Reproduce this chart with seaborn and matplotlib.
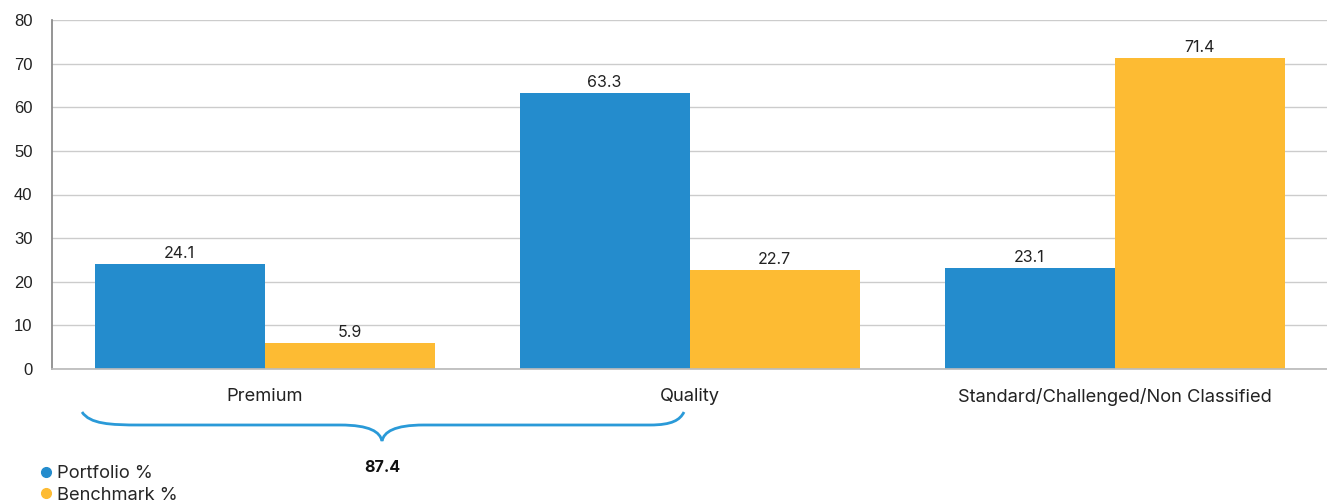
import matplotlib
matplotlib.use("Agg")
import matplotlib.pyplot as plt
from matplotlib.path import Path
from matplotlib.patches import PathPatch
from matplotlib.lines import Line2D
import seaborn as sns
import pandas as pd

# data
categories = ["Premium", "Quality", "Standard/Challenged/Non Classified"]
portfolio = [24.1, 63.3, 23.1]
benchmark = [5.9, 22.7, 71.4]
series_names = ["Portfolio %", "Benchmark %"]
brace_total = "87.4"

BLUE = "#248ccd"
YELLOW = "#fdbb33"

df = pd.DataFrame({
    "Category": categories * 2,
    "Value": portfolio + benchmark,
    "Series": [series_names[0]] * 3 + [series_names[1]] * 3,
})

sns.set_theme(style="white")
plt.rcParams["font.family"] = ["Inter", "DejaVu Sans"]

W, H = 1327, 504
fig = plt.figure(figsize=(W / 100, H / 100), dpi=100)
ax = fig.add_axes([52 / W, 1 - 369 / H, 1 - 52 / W, (369 - 20) / H])

sns.barplot(data=df, x="Category", y="Value", hue="Series",
            palette=[BLUE, YELLOW], width=0.8, saturation=1,
            linewidth=0, legend=False, ax=ax)

for cont in ax.containers:
    ax.bar_label(cont, fmt="%.1f", padding=2, fontsize=11.5, color="#222222")

ax.set_xlim(-0.5, 2.5)
ax.set_ylim(0, 80)
ax.set_yticks(range(0, 81, 10))
ax.yaxis.grid(True, color="#cccccc", linewidth=1)
ax.set_axisbelow(True)
ax.set_xlabel("")
ax.set_ylabel("")
for s in ["top", "right"]:
    ax.spines[s].set_visible(False)
ax.spines["left"].set_color("#888888")
ax.spines["bottom"].set_color("#bbbbbb")
ax.tick_params(axis="y", labelsize=12, pad=14, length=0, colors="#222222")
ax.tick_params(axis="x", labelsize=13.2, pad=14, length=0, colors="#222222")
for lbl in ax.get_yticklabels():
    lbl.set_family(["Liberation Sans", "DejaVu Sans"])

# brace under Premium + Quality (pixel coords -> figure fraction)
def fp(x, y):
    return (x / W, 1 - y / H)

verts = [fp(82, 412), fp(90, 424), fp(110, 425), fp(140, 425),
         fp(340, 425),
         fp(370, 425), fp(380, 432), fp(382, 441),
         fp(384, 432), fp(394, 425), fp(424, 425),
         fp(650, 425),
         fp(672, 425), fp(680, 420), fp(684, 412)]
codes = [Path.MOVETO, Path.CURVE4, Path.CURVE4, Path.CURVE4,
         Path.LINETO,
         Path.CURVE4, Path.CURVE4, Path.CURVE4,
         Path.CURVE4, Path.CURVE4, Path.CURVE4,
         Path.LINETO,
         Path.CURVE4, Path.CURVE4, Path.CURVE4]
fig.add_artist(PathPatch(Path(verts, codes), transform=fig.transFigure,
                         fill=False, edgecolor="#2a9ad8", linewidth=2))
fig.text(382 / W, 1 - 467 / H, brace_total, ha="center", va="center",
         fontsize=11.5, fontweight="bold", color="#111111")

handles = [Line2D([], [], marker="o", linestyle="", markersize=7,
                  markerfacecolor=c, markeredgecolor=c) for c in [BLUE, YELLOW]]
fig.legend(handles, series_names, loc="upper left",
           bbox_to_anchor=(38 / W, 1 - 465 / H), frameon=False,
           fontsize=13.2, handletextpad=0.15, labelspacing=0.25,
           handlelength=0.9, borderpad=0, borderaxespad=0)

fig.savefig("out.png", dpi=100)
